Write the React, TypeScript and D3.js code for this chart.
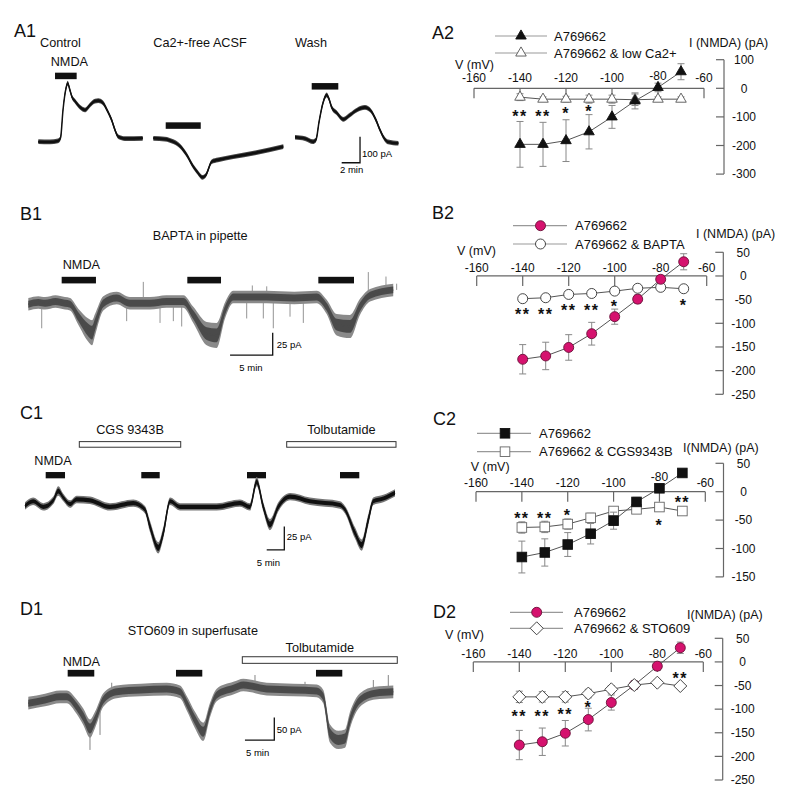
import React from 'react';
import * as d3 from 'd3';

const FONT = "'Liberation Sans', Arial, Helvetica, sans-serif";
const MAGENTA = '#d5126e';

// ---------- I-V data ----------
const voltages = [-140, -130, -120, -110, -100, -90, -80, -70];
const vTicks = [-160, -140, -120, -100, -80, -60];

const a2Control = [-196, -196, -183, -152, -100, -44, 3, 58];
const a2ControlErr = [80, 77, 73, 60, 40, 28, 15, 28];
const a2LowCa = [-31, -38, -38, -38, -38, -40, -38, -38];
const a2LowCaErr = [12, 8, 10, 14, 14, 20, 8, 8];
const a2Ticks = [100, 0, -100, -200, -300];
const a2StarV = [-140, -130, -120, -110];
const a2StarText = ['**', '**', '*', '*'];
const a2StarI = [-86, -86, -76, -69];

const b2Control = [-176, -169, -151, -122, -86, -49, -7, 30];
const b2ControlErr = [31, 29, 27, 24, 16, 9, 8, 17];
const b2Bapta = [-48, -46, -39, -37, -32, -26, -24, -27];
const b2BaptaErr = [5, 5, 5, 5, 5, 5, 5, 5];
const b2Ticks = [50, 0, -50, -100, -150, -200, -250];
const b2StarV = [-140, -130, -120, -110, -100, -70];
const b2StarText = ['**', '**', '**', '**', '*', '*'];
const b2StarI = [-75, -75, -66, -66, -57, -54];

const c2Control = [-115, -107, -93, -74, -51, -18, 6, 33];
const c2ControlErr = [28, 24, 21, 18, 15, 8, 6, 5];
const c2Cgs = [-63, -62, -57, -46, -34, -31, -27, -34];
const c2CgsErr = [10, 10, 9, 8, 6, 6, 6, 5];
const c2Ticks = [50, 0, -50, -100, -150];
const c2StarV = [-140, -130, -120, -80, -70];
const c2StarText = ['**', '**', '*', '*', '**'];
const c2StarI = [-41, -41, -35, -53, -12];

const d2Control = [-176, -169, -151, -122, -86, -49, -9, 30];
const d2ControlErr = [31, 29, 27, 24, 16, 9, 9, 12];
const d2Sto = [-74, -74, -74, -67, -58, -49, -44, -51];
const d2StoErr = [12, 11, 11, 9, 8, 6, 6, 5];
const d2Ticks = [50, 0, -50, -100, -150, -200, -250];
const d2StarV = [-140, -130, -120, -110, -70];
const d2StarText = ['**', '**', '**', '*', '**'];
const d2StarI = [-109, -109, -103, -89, -28];

// ---------- current traces: [time (min), current (pA), noise (pA)] ----------
const a1Control = [
  [4.18, 0], [5.45, -1], [6.32, 3], [6.6, 14], [6.87, 122], [7.2, 206], [7.38, 225], [7.63, 198],
  [7.85, 172], [8.18, 156], [8.72, 133], [9.27, 122], [9.81, 141], [10.36, 156], [10.72, 158],
  [11.23, 149], [11.67, 122], [12.18, 83], [12.54, 45], [12.9, 19], [13.63, 12], [15.56, 13],
];
const a1CaFree = [
  [16.72, 13], [17.99, 10], [18.9, 0], [19.63, -17], [20.36, -51], [21.08, -96], [21.59, -120],
  [22.06, -137], [22.46, -128], [23.09, -77], [23.77, -70], [25.44, -58], [27.81, -43], [30.89, -19],
];
const a1Wash = [
  [32.17, 17], [33.26, 12], [34.13, 0], [34.46, 7], [34.79, 76], [35.22, 149], [35.63, 180],
  [35.88, 164], [36.17, 132], [36.75, 110], [37.44, 86], [38.17, 103], [38.93, 122], [39.8, 132],
  [40.46, 118], [41.0, 83], [41.44, 45], [41.88, 14], [42.31, -1], [43.44, -6],
];
const a1Bars = [[6.0, 8.36, 253], [18.07, 21.89, 62], [33.99, 36.89, 213]];

const b1Trace = [
  [3.32, -1, 7], [4.5, 1, 7], [5.28, 0, 7], [6.5, 2, 7], [7.62, 0, 7], [8.21, -1, 7], [9.18, -15, 9],
  [10.35, -30, 13], [10.79, -33, 14], [11.14, -24, 12], [12.11, 0, 8], [13.68, 6, 7], [15.24, 0, 7],
  [17.58, 0, 7], [19.5, 2, 7], [21.49, 2, 7], [22.66, -13, 9], [24.23, -34, 13], [25.4, -36, 14],
  [26.38, -8, 9], [27.35, 7, 7], [31.27, 7, 7], [34.5, 6, 7], [37.13, 7, 7], [38.3, -4, 8],
  [39.47, -24, 12], [41.03, -26, 13], [42.2, -4, 9], [43.38, 9, 7], [46.1, 15, 7],
];
const b1SpikeT = [4.89, 14.85, 18.76, 20.32, 21.3, 28.92, 30.87, 32.04, 34.0, 35.56, 16.8, 29.58, 31.27, 43.18, 45.25, 46.5];
const b1SpikeI = [-28, -20, -22, -20, -26, -17, -17, -28, -15, -22, 24, 20, 19, 35, 30, 22];
const b1Bars = [[7.23, 11.25, 26], [21.96, 25.91, 26], [37.32, 41.5, 26]];

const c1Trace = [
  [7.1, -1, 4], [9.38, 4, 4], [12.3, -2, 4], [15.14, 5, 4], [16.56, 15, 5], [17.98, 8, 4],
  [19.89, 1, 4], [21.79, 6, 4], [25.57, 5, 4], [31.25, -2, 4], [37.87, 2, 4], [41.19, -5, 4],
  [42.61, -23, 6], [44.97, -46, 6], [46.39, -30, 6], [48.3, 4, 4], [51.14, -2, 4], [61.56, -2, 4],
  [68.18, 2, 4], [71.02, -2, 4], [72.93, 25, 5], [74.8, -2, 5], [76.7, -21, 6], [79.06, -2, 5],
  [82.39, 9, 4], [88.07, 4, 4], [96.59, 0, 4], [98.01, -5, 4], [100.85, -30, 6], [102.76, -43, 6],
  [104.63, -16, 6], [106.05, 4, 4], [108.89, 7, 4], [112.22, 13, 4],
];
const c1Bars = [[12.98, 18.47, 32], [40.14, 45.37, 32], [70.17, 75.57, 32], [96.59, 102.07, 32]];
const c1DrugBars = [[22.53, 51.34, 65], [81.45, 112.5, 65]];
const c1DrugNames = ['CGS 9343B', 'Tolbutamide'];

const d1Trace = [
  [4.82, -29, 14], [7.67, -22, 14], [10.22, -15, 14], [11.36, -15, 14], [13.07, -37, 16],
  [14.19, -59, 18], [15.33, -85, 20], [16.18, -66, 18], [17.6, -22, 15], [19.88, -4, 14],
  [24, 0, 14], [28.4, 2, 14], [30.66, -4, 14], [31.81, -29, 16], [33.22, -66, 18], [34.63, -92, 20],
  [35.78, -44, 16], [36.92, -11, 14], [39.74, 4, 14], [41.45, 11, 14], [45.43, 2, 14], [50, 0, 14],
  [53.95, -2, 14], [55.08, -15, 15], [56.22, -96, 20], [57.63, -110, 20], [58.77, -107, 20],
  [59.63, -66, 18], [61.33, -22, 15], [63.88, -7, 14], [67.0, -4, 14],
];
const d1SpikeT = [19.03, 43.44, 51.96, 63.6, 66.15, 15.33, 17.04];
const d1SpikeI = [16, 33, 18, 22, 33, -132, -99];
const d1Bars = [[11.53, 16.06, 37], [29.98, 34.46, 37], [53.83, 58.31, 37]];
const d1DrugBars = [[41.28, 67.68, 66]];

// ---------- helpers ----------
type Scale = d3.ScaleLinear<number, number>;
const LABEL = 12.7;

function Trace({ pts, x, y, noise = 0, dark, light }: any) {
  const p = pts.map((d: number[]) => [d[0], d[1], d.length > 2 ? d[2] : noise]);
  const outer = d3.area<number[]>()
    .x((d) => x(d[0])).y0((d) => y(d[1] - d[2])).y1((d) => y(d[1] + d[2]))
    .curve(d3.curveMonotoneX);
  const inner = d3.area<number[]>()
    .x((d) => x(d[0])).y0((d) => y(d[1] - d[2] * 0.55)).y1((d) => y(d[1] + d[2] * 0.55))
    .curve(d3.curveMonotoneX);
  const line = d3.line<number[]>().x((d) => x(d[0])).y((d) => y(d[1])).curve(d3.curveMonotoneX);
  return (
    <g>
      <path d={outer(p) || ''} fill={light} />
      <path d={inner(p) || ''} fill={dark} />
      <path d={line(p) || ''} fill="none" stroke={dark} strokeWidth={1.5} />
    </g>
  );
}

function Spikes({ ts, is, trace, x, y, color }: any) {
  const interp = (t: number) => {
    for (let k = 0; k < trace.length - 1; k++) {
      if (t >= trace[k][0] && t <= trace[k + 1][0]) {
        const f = (t - trace[k][0]) / (trace[k + 1][0] - trace[k][0]);
        return trace[k][1] + f * (trace[k + 1][1] - trace[k][1]);
      }
    }
    return trace[trace.length - 1][1];
  };
  return (
    <g>
      {ts.map((t: number, k: number) => (
        <line key={k} x1={x(t)} x2={x(t)} y1={y(interp(t))} y2={y(is[k])} stroke={color} strokeWidth={0.9} />
      ))}
    </g>
  );
}

function Bars({ bars, x, y, h, open }: any) {
  return (
    <g>
      {bars.map((b: number[], k: number) => (
        <rect key={k} x={x(b[0])} width={x(b[1]) - x(b[0])} y={y(b[2]) - h / 2} height={h}
          fill={open ? '#fff' : '#111'} stroke={open ? '#333' : 'none'} strokeWidth={1} />
      ))}
    </g>
  );
}

function ScaleBar({ x, y, t, i, dt, di, vLabel, hLabel, vOff, hOff }: any) {
  const cx = x(t), cy = y(i);
  return (
    <g fontSize={9.5} fontFamily={FONT}>
      <path d={`M${x(t - dt)},${cy}H${cx}V${y(i + di)}`} fill="none" stroke="#111" strokeWidth={1.3} />
      <text x={cx + vOff[0]} y={cy + vOff[1]}>{vLabel}</text>
      <text x={cx + hOff[0]} y={cy + hOff[1]}>{hLabel}</text>
    </g>
  );
}

function Marker({ type, cx, cy, fill, stroke }: any) {
  if (type === 'circle') return <circle cx={cx} cy={cy} r={5} fill={fill} stroke={stroke} strokeWidth={0.9} />;
  if (type === 'square') return <rect x={cx - 4.8} y={cy - 4.8} width={9.6} height={9.6} fill={fill} stroke={stroke} strokeWidth={0.9} />;
  if (type === 'diamond') return <path d={`M${cx},${cy - 6.5}L${cx + 6.5},${cy}L${cx},${cy + 6.5}L${cx - 6.5},${cy}Z`} fill={fill} stroke={stroke} strokeWidth={0.9} />;
  const tri = d3.symbol().type(d3.symbolTriangle).size(48)();
  return <path d={tri || ''} transform={`translate(${cx},${cy})`} fill={fill} stroke={stroke} strokeWidth={0.9} />;
}

function IVPanel(p: any) {
  const x: Scale = d3.scaleLinear().domain([-160, -60]).range(p.xRange);
  const y: Scale = d3.scaleLinear().domain(p.yDomain).range(p.yRange);
  const y0 = y(0);
  const line = d3.line<number>().x((_, k) => x(voltages[k])).y((d) => y(d));
  return (
    <g fontFamily={FONT} fill="#111">
      <text x={p.labelPos[0]} y={p.labelPos[1]} fontSize={18}>{p.label}</text>
      {/* legend */}
      {p.series.map((s: any, k: number) => (
        <g key={k}>
          <line x1={p.legendX[0]} x2={p.legendX[1]} y1={p.legendY[k]} y2={p.legendY[k]} stroke="#999" strokeWidth={1.2} />
          <Marker type={s.type} cx={p.legendX[2]} cy={p.legendY[k]} fill={s.fill} stroke={s.stroke} />
          <text x={p.legendX[3]} y={p.legendY[k] + 4.5} fontSize={13}>{s.name}</text>
        </g>
      ))}
      <text x={p.iLabelPos[0]} y={p.iLabelPos[1]} fontSize={12.5}>{p.iLabel}</text>
      <text x={p.vLabelPos[0]} y={p.vLabelPos[1]} fontSize={12.5}>V (mV)</text>
      {/* x axis */}
      <line x1={x(-160)} x2={x(-60)} y1={y0} y2={y0} stroke="#666" strokeWidth={1.2} />
      {vTicks.map((v) => (
        <g key={v}>
          <line x1={x(v)} x2={x(v)} y1={y0} y2={y0 + 10} stroke="#666" strokeWidth={1.2} />
          <text x={x(v)} y={y0 - p.tickGap - (v === -80 ? p.raise80 : 0)} fontSize={12} textAnchor="middle">{v}</text>
        </g>
      ))}
      {/* y axis */}
      <line x1={p.axisX} x2={p.axisX} y1={y(p.yTicks[0])} y2={y(p.yTicks[p.yTicks.length - 1])} stroke="#666" strokeWidth={1.2} />
      {p.yTicks.map((t: number) => (
        <g key={t}>
          <line x1={p.axisX - 8} x2={p.axisX} y1={y(t)} y2={y(t)} stroke="#666" strokeWidth={1.2} />
          <text x={p.axisX + 20} y={y(t) + 4.3} fontSize={12} textAnchor="middle">{t}</text>
        </g>
      ))}
      {/* connecting lines */}
      {p.series.map((s: any, k: number) => (
        <path key={k} d={line(s.values) || ''} fill="none" stroke="#555" strokeWidth={1} />
      ))}
      {/* error bars + markers */}
      {p.order.map((k: number) => {
        const s = p.series[k];
        return (
          <g key={k}>
            {s.values.map((v: number, j: number) => {
              const cx = x(voltages[j]);
              const yt = y(v + s.err[j]), yb = y(v - s.err[j]);
              return (
                <g key={j} stroke="#888" strokeWidth={1}>
                  <line x1={cx} x2={cx} y1={yt} y2={yb} />
                  <line x1={cx - 3.5} x2={cx + 3.5} y1={yt} y2={yt} />
                  <line x1={cx - 3.5} x2={cx + 3.5} y1={yb} y2={yb} />
                </g>
              );
            })}
            {s.values.map((v: number, j: number) => (
              <Marker key={'m' + j} type={s.type} cx={x(voltages[j])} cy={y(v)} fill={s.fill} stroke={s.stroke} />
            ))}
          </g>
        );
      })}
      {/* significance */}
      {p.starV.map((v: number, k: number) => (
        <text key={k} x={x(v)} y={y(p.starI[k]) + 9} fontSize={16} fontWeight="bold" letterSpacing={1.5} textAnchor="middle">{p.starText[k]}</text>
      ))}
    </g>
  );
}

export default function App() {
  const xA = d3.scaleLinear().domain([0, 44]).range([0, 403.5]);
  const yA = d3.scaleLinear().domain([0, 100]).range([141.7, 115.7]);
  const xB = d3.scaleLinear().domain([0, 50]).range([0, 426.5]);
  const yB = d3.scaleLinear().domain([0, 25]).range([303.3, 281]);
  const xC = d3.scaleLinear().domain([0, 100]).range([0, 352]);
  const yC = d3.scaleLinear().domain([0, 25]).range([505, 481.7]);
  const xD = d3.scaleLinear().domain([0, 50]).range([0, 293.5]);
  const yD = d3.scaleLinear().domain([0, 50]).range([690, 667.3]);

  return (
    <svg width={800} height={794} style={{ position: 'absolute', left: 0, top: 0, background: '#fff' }}
      fontFamily={FONT}>
      <rect width={800} height={794} fill="#fff" />
      {/* ---------- A1 ---------- */}
      <g fill="#111" fontSize={LABEL}>
        <text x={14} y={36.7} fontSize={18}>A1</text>
        <text x={40} y={47.3}>Control</text>
        <text x={153.3} y={47.3}>Ca2+-free ACSF</text>
        <text x={295} y={47.3}>Wash</text>
        <text x={50.7} y={65.7}>NMDA</text>
      </g>
      <Bars bars={a1Bars} x={xA} y={yA} h={6.5} />
      <Trace pts={a1Control} x={xA} y={yA} noise={9} dark="#111" light="#444" />
      <Trace pts={a1CaFree} x={xA} y={yA} noise={9} dark="#111" light="#444" />
      <Trace pts={a1Wash} x={xA} y={yA} noise={9} dark="#111" light="#444" />
      <ScaleBar x={xA} y={yA} t={39.26} i={-81} dt={2} di={100} vLabel="100 pA" hLabel="2 min" vOff={[2, -6]} hOff={[-20, 10.6]} />

      {/* ---------- B1 ---------- */}
      <g fill="#111" fontSize={LABEL}>
        <text x={20} y={220} fontSize={18}>B1</text>
        <text x={152.7} y={240}>BAPTA in pipette</text>
        <text x={62.7} y={269.3}>NMDA</text>
      </g>
      <Bars bars={b1Bars} x={xB} y={yB} h={6.6} />
      <Spikes ts={b1SpikeT} is={b1SpikeI} trace={b1Trace} x={xB} y={yB} color="#888" />
      <Trace pts={b1Trace} x={xB} y={yB} dark="#4a4a4a" light="#8a8a8a" />
      <ScaleBar x={xB} y={yB} t={31.97} i={-58} dt={5} di={25} vLabel="25 pA" hLabel="5 min" vOff={[4, -6.7]} hOff={[-33.4, 15.7]} />

      {/* ---------- C1 ---------- */}
      <g fill="#111" fontSize={LABEL}>
        <text x={20} y={419} fontSize={18}>C1</text>
        {c1DrugBars.map((b, k) => (
          <text key={k} x={xC((b[0] + b[1]) / 2)} y={434} textAnchor="middle">{c1DrugNames[k]}</text>
        ))}
        <text x={34.3} y={465}>NMDA</text>
      </g>
      <Bars bars={c1DrugBars} x={xC} y={yC} h={5.6} open />
      <Bars bars={c1Bars} x={xC} y={yC} h={6.3} />
      <Trace pts={c1Trace} x={xC} y={yC} dark="#111" light="#777" />
      <ScaleBar x={xC} y={yC} t={80.77} i={-48.2} dt={5} di={25} vLabel="25 pA" hLabel="5 min" vOff={[2.4, -10]} hOff={[-27.6, 15.7]} />

      {/* ---------- D1 ---------- */}
      <g fill="#111" fontSize={LABEL}>
        <text x={20} y={615} fontSize={18}>D1</text>
        <text x={127.7} y={635}>STO609 in superfusate</text>
        <text x={xD((d1DrugBars[0][0] + d1DrugBars[0][1]) / 2)} y={651.7} textAnchor="middle">Tolbutamide</text>
        <text x={62.7} y={665.7}>NMDA</text>
      </g>
      <Bars bars={d1DrugBars} x={xD} y={yD} h={6.6} open />
      <Bars bars={d1Bars} x={xD} y={yD} h={6.7} />
      <Spikes ts={d1SpikeT} is={d1SpikeI} trace={d1Trace} x={xD} y={yD} color="#777" />
      <Trace pts={d1Trace} x={xD} y={yD} dark="#4a4a4a" light="#8a8a8a" />
      <ScaleBar x={xD} y={yD} t={46.73} i={-110.4} dt={5} di={50} vLabel="50 pA" hLabel="5 min" vOff={[2.4, -6.7]} hOff={[-28.3, 16]} />

      {/* ---------- A2 ---------- */}
      <IVPanel label="A2" labelPos={[432, 39]} xRange={[474, 704]} yDomain={[-300, 100]} yRange={[174.1, 59.7]}
        axisX={724} yTicks={a2Ticks} tickGap={6} raise80={2}
        legendY={[36, 53]} legendX={[495, 547, 521, 554]}
        iLabel="I (NMDA) (pA)" iLabelPos={[689, 47]} vLabelPos={[455, 69]}
        series={[
          { name: 'A769662', values: a2Control, err: a2ControlErr, type: 'triangle', fill: '#111', stroke: '#111' },
          { name: 'A769662 & low Ca2+', values: a2LowCa, err: a2LowCaErr, type: 'triangle', fill: '#fff', stroke: '#555' },
        ]}
        order={[1, 0]} starV={a2StarV} starText={a2StarText} starI={a2StarI} />

      {/* ---------- B2 ---------- */}
      <IVPanel label="B2" labelPos={[432, 219]} xRange={[476.7, 706.7]} yDomain={[-250, 50]} yRange={[394.3, 252.3]}
        axisX={723.3} yTicks={b2Ticks} tickGap={4} raise80={0}
        legendY={[225.7, 244]} legendX={[513, 567, 540.5, 575]}
        iLabel="I (NMDA) (pA)" iLabelPos={[696, 238]} vLabelPos={[457, 255]}
        series={[
          { name: 'A769662', values: b2Control, err: b2ControlErr, type: 'circle', fill: MAGENTA, stroke: '#6a1038' },
          { name: 'A769662 & BAPTA', values: b2Bapta, err: b2BaptaErr, type: 'circle', fill: '#fff', stroke: '#333' },
        ]}
        order={[1, 0]} starV={b2StarV} starText={b2StarText} starI={b2StarI} />

      {/* ---------- C2 ---------- */}
      <IVPanel label="C2" labelPos={[433, 425]} xRange={[476, 705.3]} yDomain={[-150, 50]} yRange={[576.9, 463.3]}
        axisX={723.5} yTicks={c2Ticks} tickGap={4.5} raise80={6.5}
        legendY={[433.3, 451.7]} legendX={[477, 531, 505, 539]}
        iLabel="I(NMDA) (pA)" iLabelPos={[683, 452]} vLabelPos={[470.7, 471]}
        series={[
          { name: 'A769662', values: c2Control, err: c2ControlErr, type: 'square', fill: '#111', stroke: '#111' },
          { name: 'A769662 & CGS9343B', values: c2Cgs, err: c2CgsErr, type: 'square', fill: '#fff', stroke: '#666' },
        ]}
        order={[1, 0]} starV={c2StarV} starText={c2StarText} starI={c2StarI} />

      {/* ---------- D2 ---------- */}
      <IVPanel label="D2" labelPos={[433, 618]} xRange={[473.3, 703.3]} yDomain={[-250, 50]} yRange={[780, 638.3]}
        axisX={722.7} yTicks={d2Ticks} tickGap={3.5} raise80={0}
        legendY={[612.3, 628.3]} legendX={[510, 563, 536.7, 574]}
        iLabel="I(NMDA) (pA)" iLabelPos={[687, 619]} vLabelPos={[445, 639]}
        series={[
          { name: 'A769662', values: d2Control, err: d2ControlErr, type: 'circle', fill: MAGENTA, stroke: '#6a1038' },
          { name: 'A769662 & STO609', values: d2Sto, err: d2StoErr, type: 'diamond', fill: '#fff', stroke: '#333' },
        ]}
        order={[0, 1]} starV={d2StarV} starText={d2StarText} starI={d2StarI} />
    </svg>
  );
}
